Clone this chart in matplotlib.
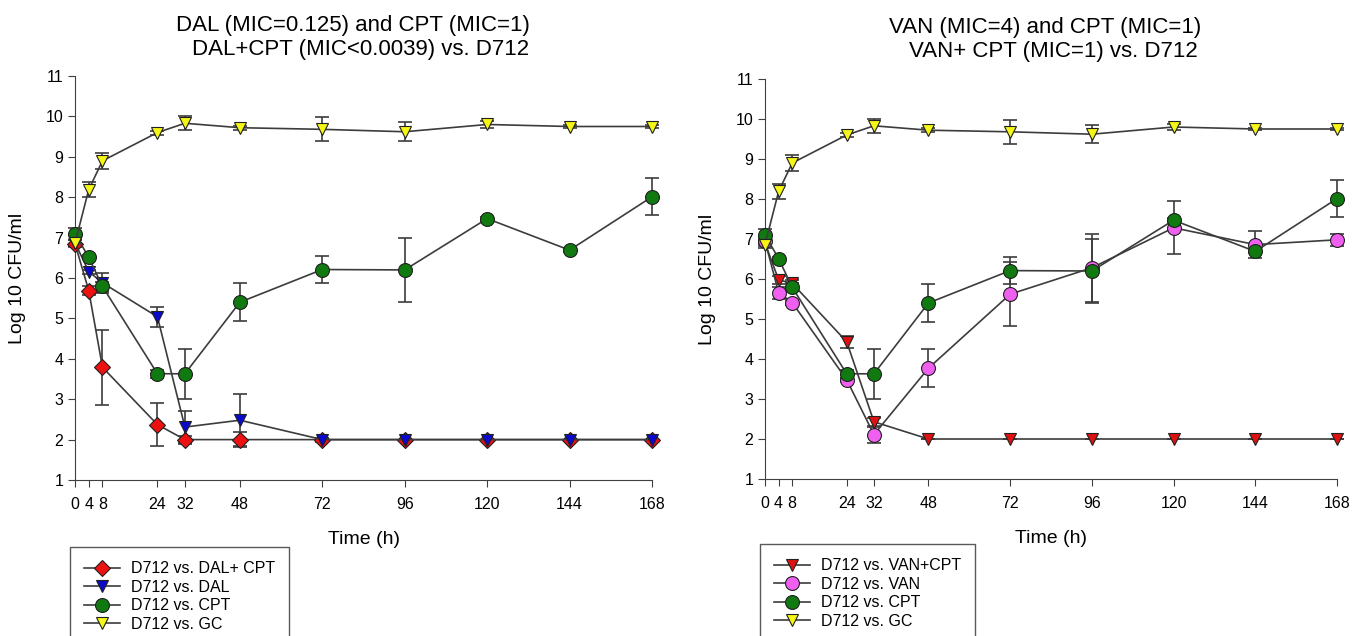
import matplotlib
matplotlib.use("Agg")
import matplotlib.pyplot as plt

plt.rcParams['font.family'] = ['Liberation Sans', 'DejaVu Sans']

# sampling times (h)
times = [0, 4, 8, 24, 32, 48, 72, 96, 120, 144, 168]
tick_labels = ['0', '4', '8', '24', '32', '48', '72', '96', '120', '144', '168']

# shared controls (same in both panels)
gc_mean = [6.86, 8.19, 8.90, 9.60, 9.83, 9.72, 9.68, 9.62, 9.80, 9.75, 9.75]
gc_err = [0.08, 0.18, 0.20, 0.05, 0.17, 0.05, 0.30, 0.23, 0.08, 0.03, 0.03]
cpt_mean = [7.10, 6.51, 5.79, 3.63, 3.63, 5.40, 6.21, 6.20, 7.47, 6.69, 8.01]
cpt_err = [0.15, 0.05, 0.10, 0.10, 0.62, 0.47, 0.34, 0.80, 0.05, 0.05, 0.46]

# left panel
dalcpt_mean = [6.85, 5.69, 3.79, 2.37, 2.00, 2.00, 2.00, 2.00, 2.00, 2.00, 2.00]
dalcpt_err = [0.08, 0.12, 0.93, 0.53, 0.10, 0.18, 0.00, 0.00, 0.00, 0.00, 0.00]
dal_mean = [6.87, 6.16, 5.88, 5.04, 2.31, 2.48, 2.00, 2.00, 2.00, 2.00, 2.00]
dal_err = [0.08, 0.05, 0.25, 0.25, 0.40, 0.65, 0.05, 0.00, 0.00, 0.00, 0.00]

# right panel
vancpt_mean = [6.90, 5.98, 5.89, 4.43, 2.43, 2.00, 2.00, 2.00, 2.00, 2.00, 2.00]
vancpt_err = [0.08, 0.10, 0.08, 0.15, 0.10, 0.00, 0.00, 0.00, 0.00, 0.00, 0.00]
van_mean = [6.95, 5.66, 5.41, 3.48, 2.11, 3.77, 5.62, 6.28, 7.28, 6.86, 6.98]
van_err = [0.08, 0.15, 0.05, 0.05, 0.20, 0.48, 0.80, 0.85, 0.66, 0.33, 0.15]

W, H = 1365, 636
fig = plt.figure(figsize=(W / 100, H / 100), dpi=100)

line_col = '#3c3c3c'


def series(ax, y, err, marker, color, ms, label):
    ax.errorbar(times, y, yerr=err, fmt='none', ecolor=line_col, elinewidth=1.2,
                capsize=5, capthick=1.2, clip_on=False, zorder=2)
    ax.plot(times, y, color=line_col, lw=1.2, marker=marker, markersize=ms,
            markerfacecolor=color, markeredgecolor='#202020', markeredgewidth=0.8,
            label=label, clip_on=False, zorder=3)


def style(ax, lx, ly):
    ax.set_xlim(0, 168)
    ax.set_ylim(1, 11)
    ax.set_xticks(times)
    ax.set_xticklabels(tick_labels)
    ax.set_yticks(range(1, 12))
    ax.spines['top'].set_visible(False)
    ax.spines['right'].set_visible(False)
    ax.spines['left'].set_color('#404040')
    ax.spines['bottom'].set_color('#404040')
    ax.tick_params(direction='out', length=5, labelsize=11.5, color='#404040')
    ax.tick_params(axis='x', pad=7)
    ax.set_xlabel('Time (h)', fontsize=14, labelpad=14)
    ax.set_ylabel('Log 10 CFU/ml', fontsize=14, labelpad=14)
    leg = ax.legend(loc='upper left', bbox_to_anchor=(lx / W, 1 - ly / H),
                    bbox_transform=fig.transFigure, fontsize=11.5, frameon=True,
                    fancybox=False, edgecolor='#303030', borderpad=0.9,
                    labelspacing=0.22, handlelength=2.2, handletextpad=0.7,
                    borderaxespad=0)
    leg.get_frame().set_linewidth(1.0)


# left panel
ax1 = fig.add_axes([75 / W, 1 - 480 / H, 577 / W, 404 / H])
series(ax1, dalcpt_mean, dalcpt_err, 'D', '#ee1111', 8, 'D712 vs. DAL+ CPT')
series(ax1, dal_mean, dal_err, 'v', '#0a0acc', 9, 'D712 vs. DAL')
series(ax1, cpt_mean, cpt_err, 'o', '#107a10', 10, 'D712 vs. CPT')
series(ax1, gc_mean, gc_err, 'v', '#f5f516', 9, 'D712 vs. GC')
style(ax1, 70, 547)

# right panel
ax2 = fig.add_axes([765 / W, 1 - 479 / H, 572 / W, 400 / H])
series(ax2, vancpt_mean, vancpt_err, 'v', '#dd1111', 9, 'D712 vs. VAN+CPT')
series(ax2, van_mean, van_err, 'o', '#f060f0', 10, 'D712 vs. VAN')
series(ax2, cpt_mean, cpt_err, 'o', '#107a10', 10, 'D712 vs. CPT')
series(ax2, gc_mean, gc_err, 'v', '#f5f516', 9, 'D712 vs. GC')
style(ax2, 760, 544)

# titles
fig.text(353 / W, 1 - 25 / H, 'DAL (MIC=0.125) and CPT (MIC=1)', ha='center', va='center', fontsize=16)
fig.text(361 / W, 1 - 50 / H, 'DAL+CPT (MIC<0.0039) vs. D712', ha='center', va='center', fontsize=16)
fig.text(1045 / W, 1 - 28 / H, 'VAN (MIC=4) and CPT (MIC=1)', ha='center', va='center', fontsize=16)
fig.text(1053 / W, 1 - 52 / H, 'VAN+ CPT (MIC=1) vs. D712', ha='center', va='center', fontsize=16)

fig.savefig('out.png', dpi=100)
